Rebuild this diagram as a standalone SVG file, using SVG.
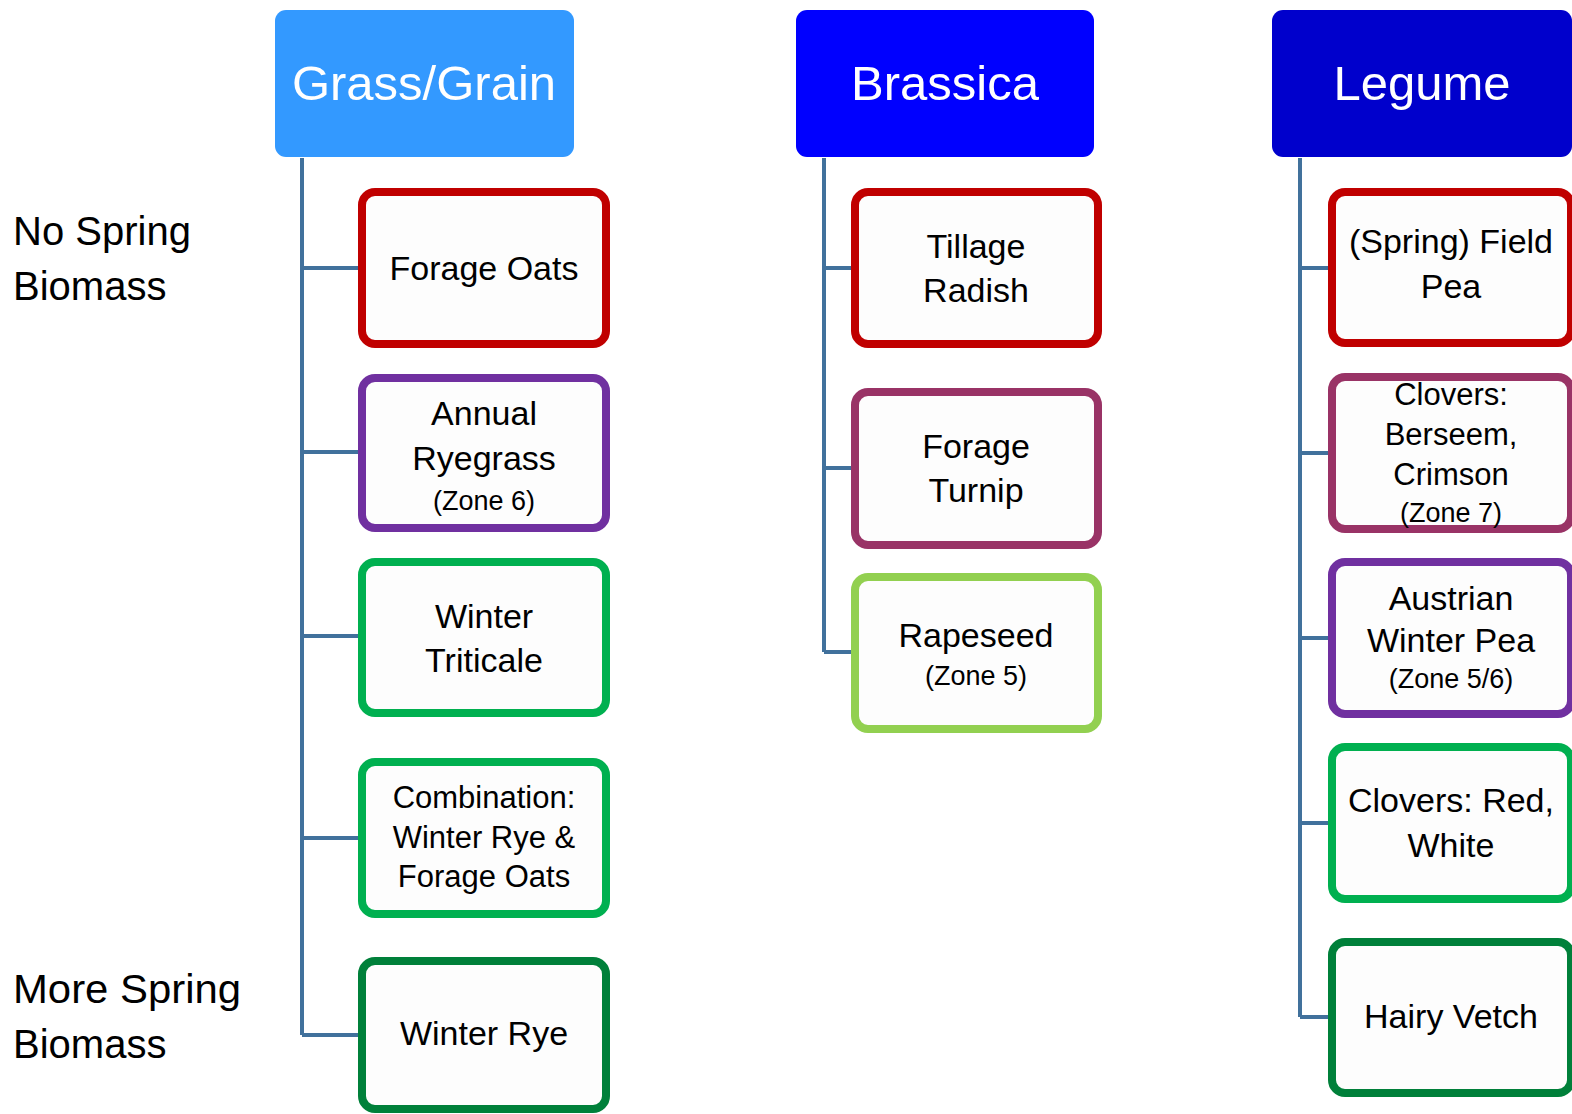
<svg xmlns="http://www.w3.org/2000/svg" width="1572" height="1114" viewBox="0 0 1572 1114">
<style>
text{font-family:"Liberation Sans",Arial,sans-serif;text-anchor:middle;fill:#000}
.hd{fill:#fff;font-size:49px}
.t{font-size:34px}
.s{font-size:27px}
.c{font-size:31px}
.lb{font-size:40px;text-anchor:start}
.box{fill:#fdfdfd;stroke-width:8}
.conn{fill:none;stroke:#41719C;stroke-width:4;stroke-linejoin:miter}
</style>
<rect width="1572" height="1114" fill="#fff"/>
<g id="labels">
<text class="lb" x="13" y="245">No Spring</text>
<text class="lb" x="13" y="300">Biomass</text>
<text class="lb" x="13" y="1003" textLength="228" lengthAdjust="spacingAndGlyphs">More Spring</text>
<text class="lb" x="13" y="1058">Biomass</text>
</g>
<g id="connectors" class="conn">
<path d="M302 158V1035M302 268H358M302 452H358M302 636H358M302 838H358M302 1035H358"/>
<path d="M824 158V652M824 268H851M824 468H851M824 652H851"/>
<path d="M1300 158V1017M1300 268H1328M1300 453H1328M1300 638H1328M1300 823H1328M1300 1017H1328"/>
</g>
<g id="grass-grain"><rect x="275" y="10" width="299" height="147" rx="11" fill="#3399FF"/><text class="hd" x="424" y="100">Grass/Grain</text></g>
<g id="brassica"><rect x="796" y="10" width="298" height="147" rx="11" fill="#0000FF"/><text class="hd" x="945" y="100">Brassica</text></g>
<g id="legume"><rect x="1272" y="10" width="300" height="147" rx="11" fill="#0000CC"/><text class="hd" x="1422" y="100">Legume</text></g>

<g id="forage-oats"><rect class="box" x="362" y="192" width="244" height="152" rx="13" stroke="#C00000"/><text class="t" x="484" y="280">Forage Oats</text></g>
<g id="annual-ryegrass"><rect class="box" x="362" y="378" width="244" height="150" rx="13" stroke="#7030A0"/><text class="t" x="484" y="425">Annual</text><text class="t" x="484" y="470">Ryegrass</text><text class="s" x="484" y="510">(Zone 6)</text></g>
<g id="winter-triticale"><rect class="box" x="362" y="562" width="244" height="151" rx="13" stroke="#00B050"/><text class="t" x="484" y="628">Winter</text><text class="t" x="484" y="672">Triticale</text></g>
<g id="combination"><rect class="box" x="362" y="762" width="244" height="152" rx="13" stroke="#00B050"/><text class="c" x="484" y="808">Combination:</text><text class="c" x="484" y="848">Winter Rye &amp;</text><text class="c" x="484" y="887">Forage Oats</text></g>
<g id="winter-rye"><rect class="box" x="362" y="961" width="244" height="148" rx="13" stroke="#00803A"/><text class="t" x="484" y="1045">Winter Rye</text></g>

<g id="tillage-radish"><rect class="box" x="855" y="192" width="243" height="152" rx="13" stroke="#C00000"/><text class="t" x="976" y="258">Tillage</text><text class="t" x="976" y="302">Radish</text></g>
<g id="forage-turnip"><rect class="box" x="855" y="392" width="243" height="153" rx="13" stroke="#993366"/><text class="t" x="976" y="458">Forage</text><text class="t" x="976" y="502">Turnip</text></g>
<g id="rapeseed"><rect class="box" x="855" y="577" width="243" height="152" rx="13" stroke="#92D050"/><text class="t" x="976" y="647">Rapeseed</text><text class="s" x="976" y="685">(Zone 5)</text></g>

<g id="field-pea"><rect class="box" x="1332" y="192" width="239" height="151" rx="13" stroke="#C00000"/><text class="t" x="1451" y="253">(Spring) Field</text><text class="t" x="1451" y="298">Pea</text></g>
<g id="clovers-berseem"><rect class="box" x="1332" y="377" width="239" height="152" rx="13" stroke="#993366"/><text class="c" x="1451" y="405">Clovers:</text><text class="c" x="1451" y="445">Berseem,</text><text class="c" x="1451" y="485">Crimson</text><text class="s" x="1451" y="522">(Zone 7)</text></g>
<g id="austrian-winter-pea"><rect class="box" x="1332" y="562" width="239" height="152" rx="13" stroke="#7030A0"/><text class="t" x="1451" y="610">Austrian</text><text class="t" x="1451" y="652">Winter Pea</text><text class="s" x="1451" y="688">(Zone 5/6)</text></g>
<g id="clovers-red-white"><rect class="box" x="1332" y="747" width="239" height="152" rx="13" stroke="#00B050"/><text class="t" x="1451" y="812">Clovers: Red,</text><text class="t" x="1451" y="857">White</text></g>
<g id="hairy-vetch"><rect class="box" x="1332" y="942" width="239" height="151" rx="13" stroke="#00803A"/><text class="t" x="1451" y="1028">Hairy Vetch</text></g>
</svg>
